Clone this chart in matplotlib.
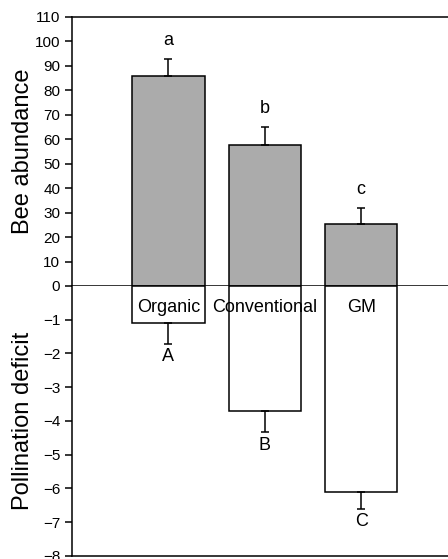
import numpy as np
import matplotlib.pyplot as plt

plt.rcParams['font.family'] = ['Liberation Sans', 'DejaVu Sans']

categories = ["Organic", "Conventional", "GM"]
abundance = [85.8, 57.7, 25.2]
abundance_err = [7.0, 7.3, 6.6]
abundance_letters = ["a", "b", "c"]
deficit = [-1.09, -3.71, -6.09]
deficit_err = [0.63, 0.63, 0.53]
deficit_letters = ["A", "B", "C"]

fig = plt.figure(figsize=(4.48, 5.59), dpi=100)
ax1 = fig.add_axes([0.1607, 0.4884, 0.85, 0.4812])
ax2 = fig.add_axes([0.1607, 0.0054, 0.85, 0.4830])

x = np.arange(1, len(categories) + 1)
w = 0.75
lw = 1.1

# top panel: bee abundance
ax1.bar(x, abundance, width=w, color='#ababab', edgecolor='black', linewidth=lw, zorder=2)
ax1.errorbar(x, abundance, yerr=[np.zeros(3), abundance_err], fmt='none',
             ecolor='black', elinewidth=lw, capsize=2.6, capthick=lw, zorder=3)
for xi, v, e, t in zip(x, abundance, abundance_err, abundance_letters):
    ax1.text(xi, v + e + 4, t, ha='center', va='bottom', fontsize=13)
ax1.set_ylim(0, 110)
ax1.set_yticks(np.arange(0, 111, 10))
ax1.set_ylabel("Bee abundance", fontsize=17)
ax1.yaxis.set_label_coords(-0.10, 0.5)
ax1.spines['right'].set_visible(False)

# bottom panel: pollination deficit
ax2.bar(x, deficit, width=w, color='white', edgecolor='black', linewidth=lw, zorder=2)
ax2.errorbar(x, deficit, yerr=[deficit_err, np.zeros(3)], fmt='none',
             ecolor='black', elinewidth=lw, capsize=2.6, capthick=lw, zorder=3)
for xi, v, e, t in zip(x, deficit, deficit_err, deficit_letters):
    ax2.text(xi, v - e - 0.12, t, ha='center', va='top', fontsize=13)
for xi, c in zip(x, categories):
    ax2.text(xi, -0.65, c, ha='center', va='center', fontsize=13, zorder=4)
ax2.set_ylim(-8, 0)
ax2.set_yticks(np.arange(-8, 0, 1))
ax2.set_ylabel("Pollination deficit", fontsize=17)
ax2.yaxis.set_label_coords(-0.10, 0.5)
ax2.spines['right'].set_visible(False)
ax2.spines['top'].set_visible(False)

for ax in (ax1, ax2):
    ax.set_xlim(0, 3.95)
    ax.set_xticks([])
    ax.tick_params(axis='y', direction='out', length=5, width=lw, labelsize=11)
    for s in ax.spines.values():
        s.set_linewidth(lw)

fig.savefig("out.png", dpi=100)
